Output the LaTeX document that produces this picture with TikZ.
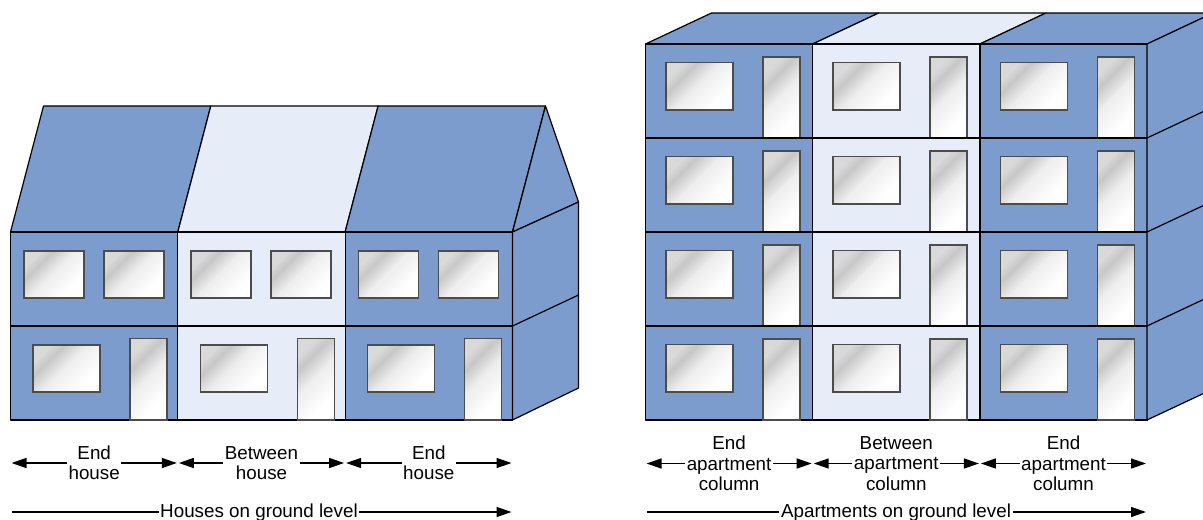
\documentclass[tikz,border=0pt]{standalone}
\usepackage{fontspec}
\setmainfont{Liberation Sans}
\usetikzlibrary{arrows.meta,positioning}
\definecolor{wallblue}{RGB}{123,156,205}
\definecolor{wallpale}{RGB}{230,237,248}
\pgfdeclareverticalshading{glassfade}{100bp}{color(0bp)=(white); color(30bp)=(white); color(52bp)=(black!7); color(66bp)=(black!22); color(74bp)=(black!15); color(100bp)=(black!15)}
\tikzset{%
wall/.style={draw=black, line width=0.6pt, line join=round},
glass/.style={draw=black!70, line width=0.8pt, shading=glassfade, shading angle=45},
dim/.style={draw=black, line width=0.7pt, -{Triangle[length=7.5pt,width=5pt]}, shorten >=0.5pt},
lbl/.style={align=center, inner sep=0.6pt, font=\fontsize{9.4}{10.2}\selectfont}
}

\begin{document}
\begin{tikzpicture}[x=0.5pt, y=-0.5pt]
	\useasboundingbox (0,0) rectangle (1203,519);
	\clip (0,0) rectangle (1203,519);
	% row of houses
	\foreach \i/\c in {0/wallblue,1/wallpale,2/wallblue}{
		\pgfmathsetmacro\xa{10.5+167.3*\i}
		\pgfmathsetmacro\xb{\xa+167.3}
		\filldraw[wall, fill=\c] (\xa,232) -- (\xa+33,106) -- (\xb+33,106) -- (\xb,232) -- cycle;
		\filldraw[wall, fill=\c] (\xa,232) rectangle (\xb,326);
		\filldraw[wall, fill=\c] (\xa,326) rectangle (\xb,420);
		\path[glass] (\xa+13.4,251) rectangle +(60,47);
		\path[glass] (\xa+93.4,251) rectangle +(60,47);
		\path[glass] (\xa+22.5,345) rectangle +(67,47);
		\path[glass] (\xa+119.5,338.5) rectangle (\xa+156.5,420);
	}
	\filldraw[wall, fill=wallblue] (512.5,232) -- (545.5,106) -- (578.5,202) -- cycle;
	\filldraw[wall, fill=wallblue] (512.5,232) -- (578.5,202) -- (578.5,388) -- (512.5,420) -- cycle;
	\draw[wall] (512.5,326) -- (578.5,295);
	% apartment block
	\foreach \i/\c in {0/wallblue,1/wallpale,2/wallblue}{
		\pgfmathsetmacro\xa{645.5+167.2*\i}
		\pgfmathsetmacro\xb{\xa+167.2}
		\filldraw[wall, fill=\c] (\xa,44) -- (\xa+66,13) -- (\xb+66,13) -- (\xb,44) -- cycle;
		\foreach \f in {0,...,3}{
			\pgfmathsetmacro\ya{44+94*\f}
			\filldraw[wall, fill=\c] (\xa,\ya) rectangle (\xb,\ya+94);
			\path[glass] (\xa+20.5,\ya+18.5) rectangle +(67,47.5);
			\path[glass] (\xa+117.5,\ya+13) rectangle (\xa+154.5,\ya+94);
		}
	}
	\filldraw[wall, fill=wallblue] (1147,44) -- (1213,13) -- (1213,389) -- (1147,420) -- cycle;
	\foreach \f in {1,2,3} \draw[wall] (1147,44+94*\f) -- (1213,13+94*\f);
	
	\coordinate (h0) at (10.5,463);
	\coordinate (h1) at (177.8,463);
	\coordinate (h2) at (345.1,463);
	\coordinate (h3) at (512.5,463);
	\node[lbl] (endhouseA) at (94.2,463) {End\\house};
	\node[lbl] (midhouse) at (261.5,463) {Between\\house};
	\node[lbl] (endhouseB) at (428.8,463) {End\\house};
	\draw[dim] (endhouseA) -- (h0);
	\draw[dim] (endhouseA) -- (h1);
	\draw[dim] (midhouse) -- (h1);
	\draw[dim] (midhouse) -- (h2);
	\draw[dim] (endhouseB) -- (h2);
	\draw[dim] (endhouseB) -- (h3);
	
	\coordinate (a0) at (645.5,463.5);
	\coordinate (a1) at (812.7,463.5);
	\coordinate (a2) at (979.9,463.5);
	\coordinate (a3) at (1147,463.5);
	\node[lbl] (endcolA) at (729.1,463.5) {End\\apartment\\column};
	\node[lbl] (midcol) at (896.3,463.5) {Between\\apartment\\column};
	\node[lbl] (endcolB) at (1063.5,463.5) {End\\apartment\\column};
	\draw[dim] (endcolA) -- (a0);
	\draw[dim] (endcolA) -- (a1);
	\draw[dim] (midcol) -- (a1);
	\draw[dim] (midcol) -- (a2);
	\draw[dim] (endcolB) -- (a2);
	\draw[dim] (endcolB) -- (a3);
	
	\coordinate (hg0) at (10.5,512);
	\coordinate (hg1) at (512.5,512);
	\coordinate (ag0) at (645.5,512);
	\coordinate (ag1) at (1147,512);
	\node[lbl, anchor=mid] (houses) at (259,512) {Houses on ground level};
	\node[lbl, anchor=mid] (flats) at (896,512) {Apartments on ground level};
	\draw[dim, -] (houses.mid west) -- (hg0);
	\draw[dim] (houses.mid east) -- (hg1);
	\draw[dim, -] (flats.mid west) -- (ag0);
	\draw[dim] (flats.mid east) -- (ag1);
\end{tikzpicture}
\end{document}
